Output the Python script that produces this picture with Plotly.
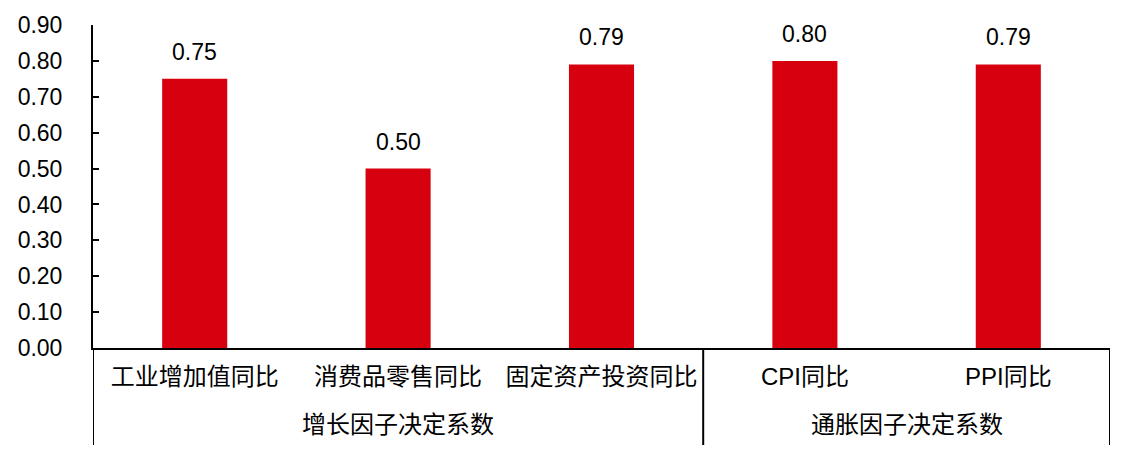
import plotly.graph_objects as go

categories = ["工业增加值同比", "消费品零售同比", "固定资产投资同比", "CPI同比", "PPI同比"]
values = [0.75, 0.50, 0.79, 0.80, 0.79]
groups = ["增长因子决定系数", "通胀因子决定系数"]
group_centers = [1, 3.5]
group_bounds = [-0.5, 2.5, 4.5]
y_ticks = [0.0, 0.1, 0.2, 0.3, 0.4, 0.5, 0.6, 0.7, 0.8, 0.9]

FONT = "Liberation Sans, Arial, Noto Sans CJK SC, sans-serif"
RED = "rgb(215,0,15)"

fig = go.Figure()
fig.add_trace(go.Bar(
    x=list(range(len(categories))), y=values,
    marker=dict(color=RED, line=dict(width=0)),
    width=0.32,
    hoverinfo="skip",
))

for i, v in enumerate(values):
    fig.add_annotation(
        x=i, y=v, xref="x", yref="y", text=f"{v:.2f}",
        showarrow=False, yanchor="bottom", yshift=12,
        font=dict(family=FONT, size=23, color="black"),
    )

ext = -(445 - 348) / 323
for b in group_bounds:
    fig.add_shape(type="line", xref="x", yref="paper", x0=b, x1=b, y0=0, y1=ext,
                  line=dict(color="black", width=2))

for g, c in zip(groups, group_centers):
    fig.add_annotation(
        x=c, y=(348 - 424) / 323, xref="x", yref="paper", text=g,
        showarrow=False, yanchor="middle",
        font=dict(family=FONT, size=24, color="black"),
    )

# page body has an 8px margin; compensate so the plot area lands at 93..1110 x 25..348
fig.update_layout(
    width=1123, height=445,
    margin=dict(l=85, r=21, t=17, b=105, autoexpand=False),
    plot_bgcolor="white", paper_bgcolor="white",
    showlegend=False,
    font=dict(family=FONT, color="black"),
)
fig.update_xaxes(
    range=[-0.5, 4.5], automargin=False,
    tickmode="array", tickvals=list(range(len(categories))), ticktext=categories,
    showgrid=False, zeroline=False,
    showline=True, linecolor="black", linewidth=1.5,
    ticks="", ticklabelstandoff=6,
    tickfont=dict(family=FONT, size=24, color="black"),
)
fig.update_yaxes(
    range=[0, 0.9], automargin=False,
    tickmode="array", tickvals=y_ticks, tickformat=".2f",
    showgrid=False, zeroline=False,
    showline=True, linecolor="black", linewidth=2,
    ticks="inside", ticklen=6, tickwidth=1.5, tickcolor="black",
    ticklabelstandoff=24,
    tickfont=dict(family=FONT, size=23, color="black"),
)

fig.write_html("out.html")
